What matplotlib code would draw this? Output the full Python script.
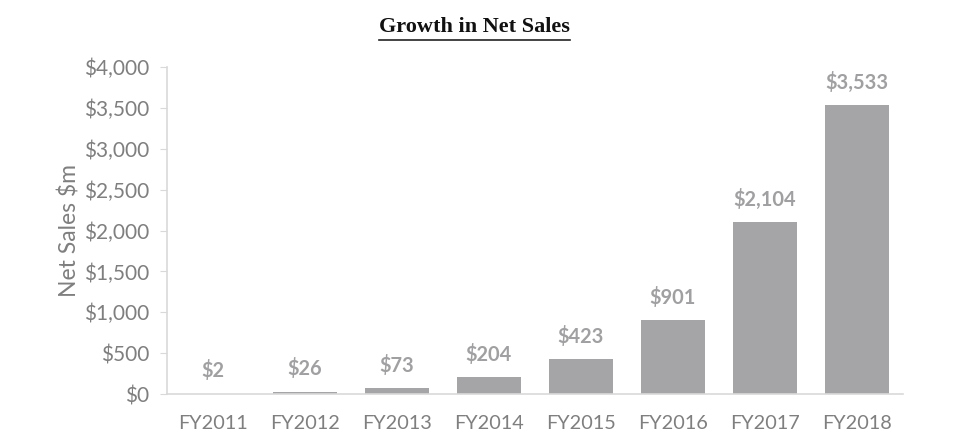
import matplotlib
matplotlib.use("Agg")
import matplotlib.pyplot as plt
from matplotlib.lines import Line2D

categories = ["FY2011", "FY2012", "FY2013", "FY2014", "FY2015", "FY2016", "FY2017", "FY2018"]
net_sales = [2, 26, 73, 204, 423, 901, 2104, 3533]
y_ticks = [0, 500, 1000, 1500, 2000, 2500, 3000, 3500, 4000]
y_tick_labels = ["$0", "$500", "$1,000", "$1,500", "$2,000", "$2,500", "$3,000", "$3,500", "$4,000"]
value_labels = ["$2", "$26", "$73", "$204", "$423", "$901", "$2,104", "$3,533"]

TEXT = "#7f7f7f"
LABEL = "#a0a0a2"
BAR = "#a5a5a7"
AXIS = "#d9d9d9"

fig = plt.figure(figsize=(9.77, 4.48), dpi=100)
ax = fig.add_axes([0.171, 0.1205, 0.753, 0.7295])
x = list(range(len(categories)))
ax.bar(x, net_sales, width=0.7, color=BAR, zorder=2)
ax.set_xlim(-0.5, len(categories) - 0.5)
ax.set_ylim(0, 4000)
ax.set_xticks(x)
ax.set_xticklabels(categories, fontfamily="Lato", fontsize=14.3, color=TEXT)
ax.set_yticks(y_ticks)
ax.set_yticklabels(y_tick_labels, fontfamily="Lato", fontsize=15, color=TEXT)
ax.tick_params(axis="x", length=0, pad=15)
ax.tick_params(axis="y", length=5, color=AXIS, pad=8)
for s in ["top", "right"]:
    ax.spines[s].set_visible(False)
for s in ["left", "bottom"]:
    ax.spines[s].set_color(AXIS)
    ax.spines[s].set_linewidth(1.2)
ax.set_ylabel("Net Sales $m", fontfamily="Lato", fontsize=16.5, color=TEXT, labelpad=2)

for xi, v, lab in zip(x, net_sales, value_labels):
    ax.annotate(lab, (xi, v), xytext=(0, 9), textcoords="offset points",
                ha="center", va="bottom", fontfamily="Lato", fontweight="bold",
                fontsize=14.4, color=LABEL)

t = fig.text(0.486, 0.94, "Growth in Net Sales", ha="center", va="center",
             fontfamily="Liberation Serif", fontweight="bold", fontsize=16, color="#111111")
fig.canvas.draw()
bb = t.get_window_extent()
w, h = fig.bbox.width, fig.bbox.height
yline = (bb.y0 - 3) / h
fig.add_artist(Line2D([bb.x0 / w, bb.x1 / w], [yline, yline], color="#222222", linewidth=1.2))

fig.savefig("out.png", dpi=100)
